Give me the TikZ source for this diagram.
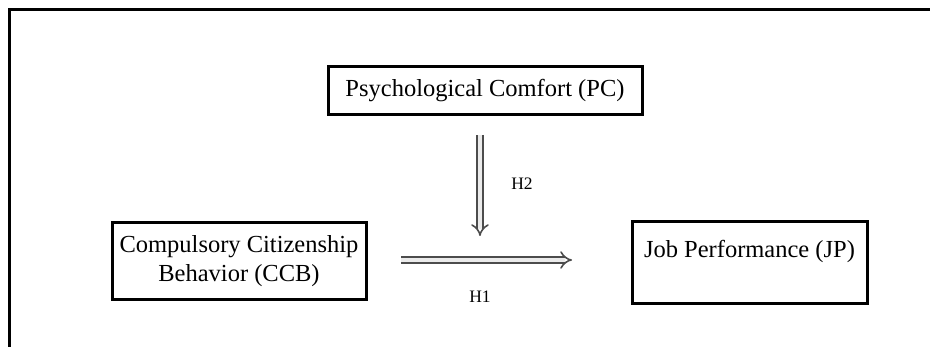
\documentclass[tikz,border=0pt]{standalone}
\usepackage{fontspec}
\setmainfont{Liberation Serif}
\usetikzlibrary{arrows.meta,positioning,calc}
\tikzset{
  construct/.style={draw=black,line width=3pt,rectangle,align=center,inner sep=0pt,font=\fontsize{24.5}{29}\selectfont},
  hyparrow/.style={draw=black!70,line width=1.6pt,double=black!8,double distance=4.4pt,-{Implies[length=10pt,width=18pt]}},
  hyplabel/.style={font=\fontsize{17.5}{20}\selectfont}
}
\begin{document}
\begin{tikzpicture}[x=1pt,y=-1pt]
\useasboundingbox (0,0) rectangle (930,347);
\draw[line width=3pt] (9,350)--(9,10)--(933,10);
\node[construct,minimum width=314pt,minimum height=48pt] (pc) at(485,91){Psychological Comfort (PC)};
\node[construct,minimum width=254pt,minimum height=77pt] (ccb) at(239,261.5){Compulsory Citizenship\\Behavior (CCB)};
\node[construct,minimum width=235pt,minimum height=82pt] (jp) at(749.5,263){Job Performance (JP)\\\mbox{}};
\coordinate (h2start) at(480,135);\coordinate (h2end) at(480,236);
\coordinate (h1start) at(401,260);\coordinate (h1end) at(572,260);
\draw[hyparrow] (h2start)--(h2end);
\draw[hyparrow] (h1start)--(h1end);
\node[hyplabel] (h2) at(522,184){H2};
\node[hyplabel] (h1) at(480,297){H1};
\end{tikzpicture}
\end{document}
